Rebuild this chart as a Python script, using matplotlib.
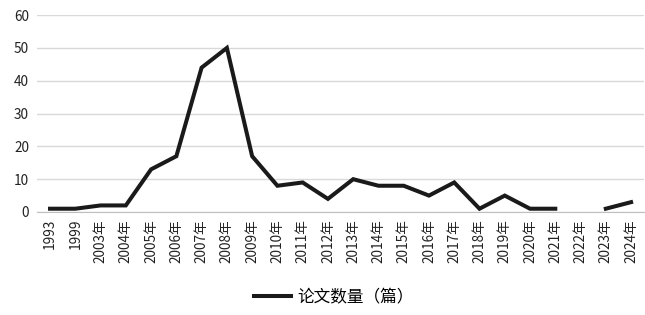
import numpy as np
import matplotlib.pyplot as plt

plt.rcParams['font.family'] = ['Noto Sans CJK SC', 'DejaVu Sans']

# Data
years = ["1993", "1999", "2003年", "2004年", "2005年", "2006年", "2007年", "2008年",
         "2009年", "2010年", "2011年", "2012年", "2013年", "2014年", "2015年", "2016年",
         "2017年", "2018年", "2019年", "2020年", "2021年", "2022年", "2023年", "2024年"]
counts = [1, 1, 2, 2, 13, 17, 44, 50, 17, 8, 9, 4, 10, 8, 8, 5, 9, 1, 5, 1, 1,
          np.nan, 1, 3]
yticks = [0, 10, 20, 30, 40, 50, 60]

fig = plt.figure(figsize=(6.45, 3.15), dpi=100)
ax = fig.add_axes([0.058, 0.327, 0.940, 0.625])

x = np.arange(len(years))
ax.plot(x, counts, color="#1a1a1a", linewidth=2.9, solid_joinstyle="miter",
        label="论文数量（篇）")

ax.set_xlim(-0.5, len(years) - 0.5)
ax.set_ylim(0, 60)
ax.set_yticks(yticks)
ax.set_xticks(x)
ax.set_xticklabels(years, rotation=90, fontsize=9.8, color="#222222")
ax.tick_params(axis="y", labelsize=9.8, colors="#222222", length=0, pad=6)
ax.tick_params(axis="x", length=0, pad=5)

ax.grid(axis="y", color="#d9d9d9", linewidth=1)
ax.set_axisbelow(True)
for side in ["left", "right", "top"]:
    ax.spines[side].set_visible(False)
ax.spines["bottom"].set_color("#bfbfbf")

fig.legend(loc="lower center", bbox_to_anchor=(0.518, -0.02), frameon=False,
           fontsize=12, handlelength=2.2, handletextpad=0.4)

fig.savefig("out.png", dpi=100)
